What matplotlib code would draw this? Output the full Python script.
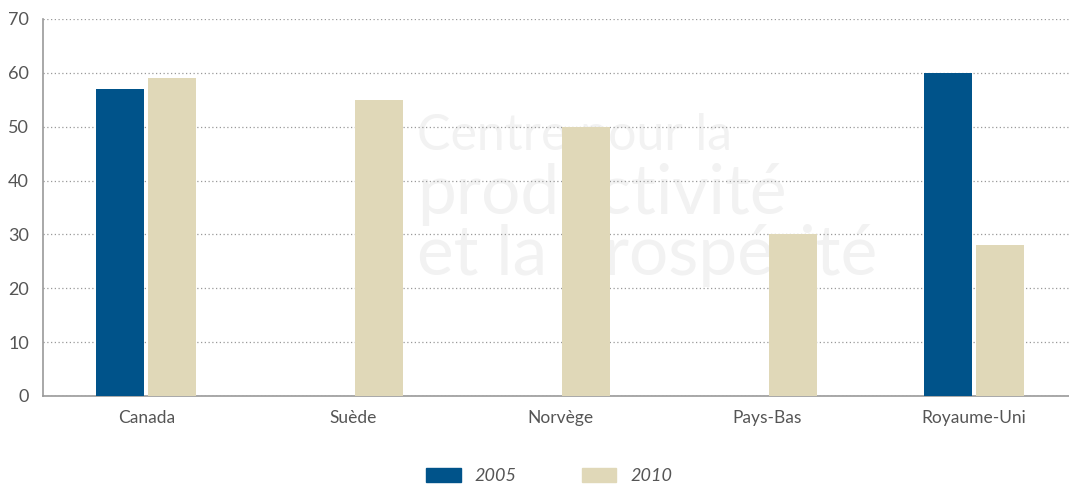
import numpy as np
import matplotlib
matplotlib.use("Agg")
import matplotlib.pyplot as plt
from matplotlib.patches import Patch

categories = ["Canada", "Suède", "Norvège", "Pays-Bas", "Royaume-Uni"]
series_names = ["2005", "2010"]
values_2005 = [57, np.nan, np.nan, np.nan, 60]
values_2010 = [59, 55, 50, 30, 28]
yticks = [0, 10, 20, 30, 40, 50, 60, 70]

c2005 = "#00538a"
c2010 = "#e0d8b8"
txt = "#555555"

plt.rcParams['font.family'] = ['Lato', 'DejaVu Sans']

fig = plt.figure(figsize=(10.69, 4.87), dpi=100)
ax = fig.add_axes([0.0402, 0.187, 0.9598, 0.774])
ax.set_zorder(2)
ax.patch.set_alpha(0)

x = np.arange(len(categories))
w = 0.232
off = 0.126
ax.bar(x - off, values_2005, width=w, color=c2005, zorder=3)
ax.bar(x + off, values_2010, width=w, color=c2010, zorder=3)

ax.set_xlim(-0.5, 4.46)
ax.set_ylim(0, 70)
ax.set_yticks(yticks)
ax.set_xticks(x)
ax.set_xticklabels(categories, fontsize=12.5, color=txt)
ax.tick_params(axis='y', labelsize=13, colors=txt, length=0, pad=10)
ax.tick_params(axis='x', length=0, pad=10)
ax.grid(axis='y', linestyle=(0, (1, 2)), color='#999999', linewidth=0.9, zorder=0)
for s in ['top', 'right']:
    ax.spines[s].set_visible(False)
ax.spines['left'].set_color('#999999')
ax.spines['bottom'].set_color('#999999')
ax.spines['left'].set_linewidth(1.2)
ax.spines['bottom'].set_linewidth(1.2)

# faint watermark (behind the axes)
wm = "#f2f2f2"
fig.text(0.39, 0.72, "Centre pour la", fontsize=36, color=wm, zorder=0, ha='left', va='center')
fig.text(0.39, 0.60, "productivité", fontsize=50, color=wm, zorder=0, ha='left', va='center')
fig.text(0.39, 0.475, "et la prospérité", fontsize=50, color=wm, zorder=0, ha='left', va='center')

handles = [Patch(color=c2005), Patch(color=c2010)]
leg = fig.legend(handles, series_names, loc='center', bbox_to_anchor=(0.514, 0.022),
                 ncol=2, frameon=False, fontsize=13, handlelength=1.9, handleheight=0.75,
                 columnspacing=3.6, handletextpad=0.8)
for t in leg.get_texts():
    t.set_color(txt)
    t.set_style('italic')

fig.savefig("out.png", dpi=100)
